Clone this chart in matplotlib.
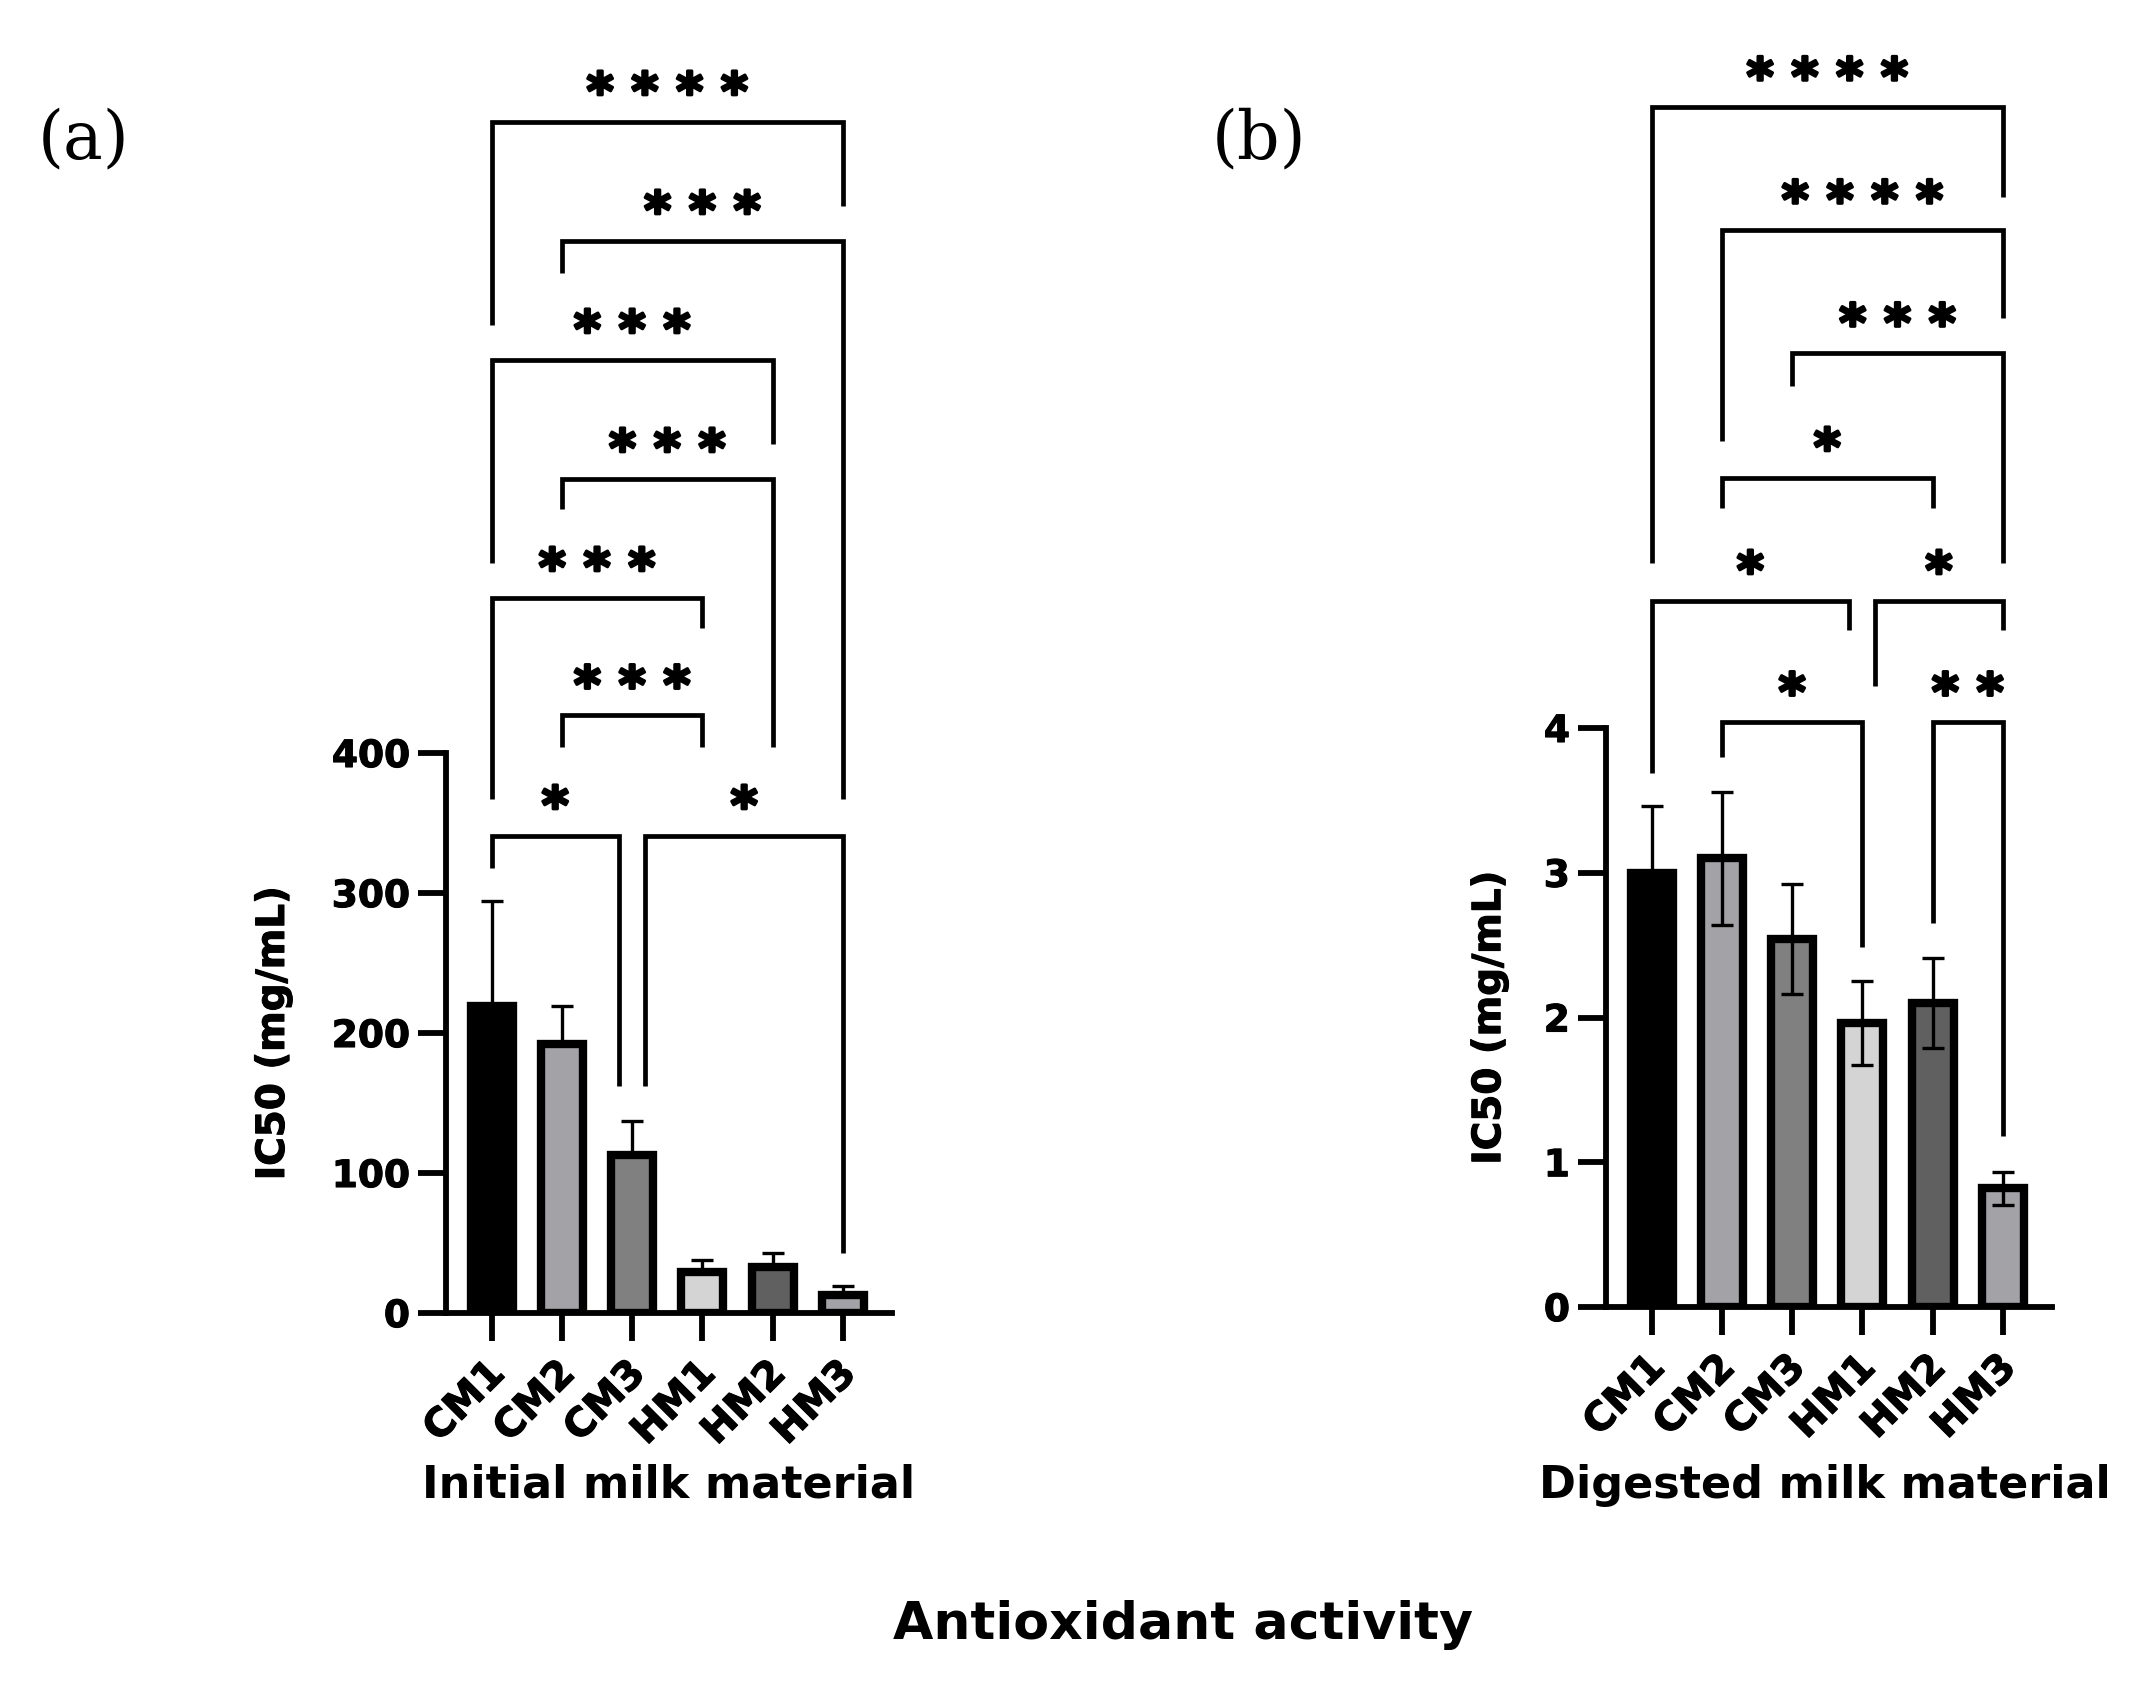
import matplotlib
matplotlib.use("Agg")
import matplotlib.pyplot as plt
import matplotlib.transforms as mtransforms
import matplotlib.patheffects as pe
import numpy as np

# ---------------- data ----------------
categories = ['CM1', 'CM2', 'CM3', 'HM1', 'HM2', 'HM3']
bar_colors = ['#000000', '#a2a2a7', '#808080', '#d4d4d4', '#606060', '#a2a2a7']

initial_mean = [219, 192, 113, 29, 33, 13]
initial_sd = [75, 27, 24, 9, 10, 6]

digested_mean = [3.00, 3.10, 2.54, 1.96, 2.10, 0.82]
digested_sd = [0.46, 0.46, 0.38, 0.29, 0.31, 0.115]

# significance brackets: (left x, right x, bar height, left leg end, right leg end, label)
initial_brackets = [
    (0, 5, 851, 706, 791, '****'),
    (1, 5, 766, 743, 367, '***'),
    (0, 4, 681, 536, 621, '***'),
    (1, 4, 596, 574, 404, '***'),
    (0, 3, 511, 367, 489, '***'),
    (1, 3, 427, 404, 404, '***'),
    (0, 1.81, 341, 318, 162, '*'),
    (2.19, 5, 341, 162, 43, '*'),
]
digested_brackets = [
    (0, 5, 8.29, 5.14, 7.67, '****'),
    (1, 5, 7.44, 5.98, 6.83, '****'),
    (2, 5, 6.59, 6.36, 5.14, '***'),
    (1, 4, 5.73, 5.52, 5.52, '*'),
    (0, 2.81, 4.88, 3.69, 4.68, '*'),
    (3.18, 5, 4.88, 4.29, 4.68, '*'),
    (1, 3, 4.04, 3.80, 2.49, '*'),
    (4, 5, 4.04, 2.65, 1.18, '**'),
]

FONT = 'DejaVu Sans'
W, H = 2142, 1691
fig = plt.figure(figsize=(W / 100, H / 100), dpi=100)


def px_axes(x0, x1, ybot, ytop):
    return fig.add_axes([x0 / W, 1 - ybot / H, (x1 - x0) / W, (ybot - ytop) / H])


def style_axes(ax, ylim, yticks, xlabel, ylab_x, xlab_x):
    ax.set_xlim(-0.65, 5.70)
    ax.set_ylim(*ylim)
    ax.set_yticks(yticks)
    ax.set_xticks(range(len(categories)))
    for s in ['top', 'right']:
        ax.spines[s].set_visible(False)
    for s in ['left', 'bottom']:
        ax.spines[s].set_linewidth(4.2)
        ax.spines[s].set_capstyle('projecting')
    ax.tick_params(axis='both', length=20, width=4.2, color='black')
    ax.tick_params(axis='y', pad=6)
    ax.tick_params(axis='x', pad=12)
    ax.set_xticklabels(categories, rotation=45, ha='right', va='top',
                       rotation_mode='anchor', fontsize=28.5, fontweight='bold', family=FONT)
    shift = mtransforms.ScaledTranslation(-5 / 72, 3 / 72, fig.dpi_scale_trans)
    for tick in ax.xaxis.get_major_ticks():
        lab = tick.label1
        lab.set_transform(lab.get_transform() + shift)
        lab.set_path_effects([pe.withStroke(linewidth=0.8, foreground='black')])
    for lab in ax.get_yticklabels():
        lab.set_fontsize(27)
        lab.set_fontweight('bold')
        lab.set_family(FONT)
        lab.set_path_effects([pe.withStroke(linewidth=0.8, foreground='black')])
    ax.set_ylabel('IC50 (mg/mL)', fontsize=28, fontweight='bold', family=FONT)
    ax.yaxis.set_label_coords(ylab_x, 0.5)
    ax.yaxis.label.set_va('center')
    ax.yaxis.label.set_path_effects([pe.withStroke(linewidth=0.8, foreground='black')])
    ax.set_xlabel(xlabel, fontsize=32, fontweight='bold', family=FONT)
    ax.xaxis.set_label_coords(xlab_x, -0.33)
    ax.xaxis.label.set_va('baseline')


def draw_bars(ax, means, sds, two_sided):
    x = np.arange(len(categories))
    ax.bar(x, means, width=0.60, color=bar_colors, edgecolor='black', linewidth=6, zorder=2)
    lower = sds if two_sided else [0] * len(sds)
    ax.errorbar(x, means, yerr=[lower, sds], fmt='none', ecolor='black',
                elinewidth=2.4, capsize=8, capthick=2.4, zorder=3)


def draw_brackets(ax, brackets):
    for x1, x2, h, e1, e2, lab in brackets:
        ax.plot([x1, x1, x2, x2], [e1, h, h, e2], color='black', lw=3.4,
                clip_on=False, solid_joinstyle='miter', solid_capstyle='butt', zorder=4)
        ax.annotate(' '.join(lab), xy=((x1 + x2) / 2, h), xytext=(0, 9),
                    textcoords='offset points', ha='center', va='baseline',
                    fontsize=37, fontweight='bold', family=FONT, annotation_clip=False,
                    path_effects=[pe.withStroke(linewidth=2.2, foreground='black')])


# panel (a)
ax1 = px_axes(446, 892, 1313, 753)
draw_bars(ax1, initial_mean, initial_sd, two_sided=False)
style_axes(ax1, (0, 400), [0, 100, 200, 300, 400], 'Initial milk material', -0.388, 0.5)
draw_brackets(ax1, initial_brackets)

# panel (b)
ax2 = px_axes(1606, 2052, 1307, 728)
draw_bars(ax2, digested_mean, digested_sd, two_sided=True)
style_axes(ax2, (0, 4), [0, 1, 2, 3, 4], 'Digested milk material', -0.262, 0.49)
draw_brackets(ax2, digested_brackets)

fig.text(38 / W, 1 - 140 / H, '(a)', fontsize=48, family='DejaVu Serif', ha='left', va='center')
fig.text(1212 / W, 1 - 140 / H, '(b)', fontsize=48, family='DejaVu Serif', ha='left', va='center')
fig.text(1183 / W, 1 - 1639 / H, 'Antioxidant activity', fontsize=37.5, fontweight='bold',
         family=FONT, ha='center', va='baseline')

fig.savefig('out.png', dpi=100, facecolor='white')
